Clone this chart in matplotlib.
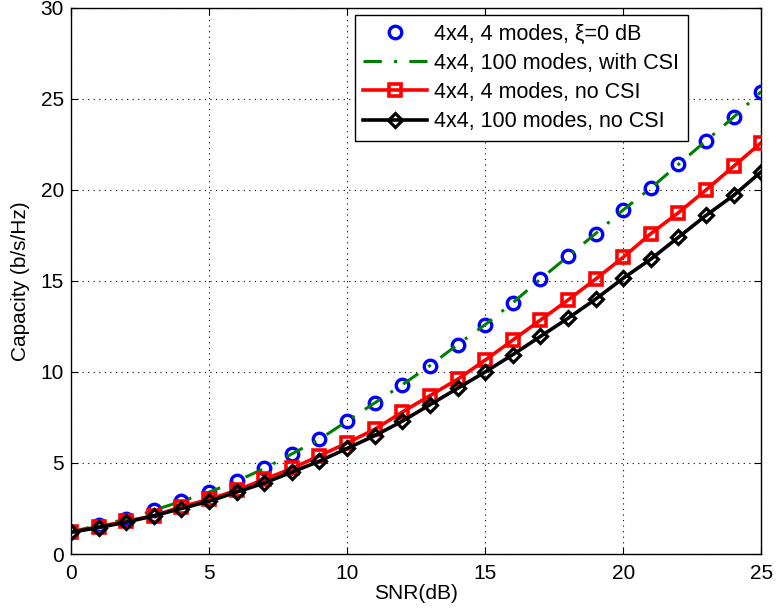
import matplotlib
matplotlib.use("Agg")
import matplotlib.pyplot as plt
import numpy as np

plt.rcParams['font.family'] = ['Liberation Sans', 'DejaVu Sans']

snr = list(range(0, 26))
cap_4modes_xi0 = [1.2, 1.6, 1.9, 2.4, 2.9, 3.4, 4.0, 4.7, 5.5, 6.3, 7.3, 8.3, 9.3,
                  10.35, 11.5, 12.6, 13.8, 15.1, 16.35, 17.6, 18.9, 20.1, 21.4, 22.7, 24.0, 25.4]
cap_100modes_csi = cap_4modes_xi0
cap_4modes_nocsi = [1.2, 1.5, 1.8, 2.1, 2.6, 3.0, 3.5, 4.1, 4.7, 5.4, 6.1, 6.85, 7.8,
                    8.7, 9.6, 10.65, 11.75, 12.85, 13.95, 15.1, 16.3, 17.6, 18.75, 20.0, 21.3, 22.6]
cap_100modes_nocsi = [1.2, 1.45, 1.75, 2.1, 2.5, 2.9, 3.4, 3.9, 4.5, 5.1, 5.8, 6.5, 7.3,
                      8.2, 9.1, 10.0, 10.95, 11.95, 12.95, 14.0, 15.15, 16.2, 17.4, 18.6, 19.7, 21.0]

labels = ['4x4, 4 modes, ξ=0 dB', '4x4, 100 modes, with CSI',
          '4x4, 4 modes, no CSI', '4x4, 100 modes, no CSI']

fig = plt.figure(figsize=(7.8, 6.13), dpi=100)
ax = fig.add_axes([0.091, 0.0962, 0.885, 0.891])

ax.plot(snr, cap_4modes_xi0, linestyle='none', marker='o', markersize=9,
        markerfacecolor='none', markeredgecolor='#0000ff', markeredgewidth=2.4,
        label=labels[0], zorder=3)
ax.plot(snr, cap_100modes_csi, color='#008000', linestyle=(0, (6, 4, 1, 4)), linewidth=2.2,
        label=labels[1], zorder=4)
ax.plot(snr, cap_4modes_nocsi, color='#ff0000', linewidth=2.6, marker='s', markersize=9,
        markerfacecolor='none', markeredgecolor='#ff0000', markeredgewidth=2.6,
        label=labels[2], zorder=5)
ax.plot(snr, cap_100modes_nocsi, color='black', linewidth=2.6, marker='D', markersize=7.5,
        markerfacecolor='none', markeredgecolor='black', markeredgewidth=2.3,
        label=labels[3], zorder=6)

ax.set_xlim(0, 25)
ax.set_ylim(0, 30)
ax.set_xticks([0, 5, 10, 15, 20, 25])
ax.set_yticks([0, 5, 10, 15, 20, 25, 30])
ax.tick_params(direction='in', top=True, right=True, labelsize=15, length=5)
ax.tick_params(axis='x', pad=7)
ax.tick_params(axis='y', pad=5)
ax.grid(True, color='black', linestyle=(0, (1, 4)), linewidth=0.8)
ax.set_xlabel('SNR(dB)', fontsize=15, labelpad=1)
ax.set_ylabel('Capacity (b/s/Hz)', fontsize=15, labelpad=8)
for s in ax.spines.values():
    s.set_linewidth(1.0)

leg = ax.legend(loc='upper right', bbox_to_anchor=(0.894, 0.987), borderaxespad=0,
                fontsize=15.5, fancybox=False, framealpha=1, edgecolor='black',
                handlelength=2.95, handletextpad=0.35, borderpad=0.4, labelspacing=0.38)
leg.get_frame().set_linewidth(1.0)

fig.savefig('out.png', dpi=100)
